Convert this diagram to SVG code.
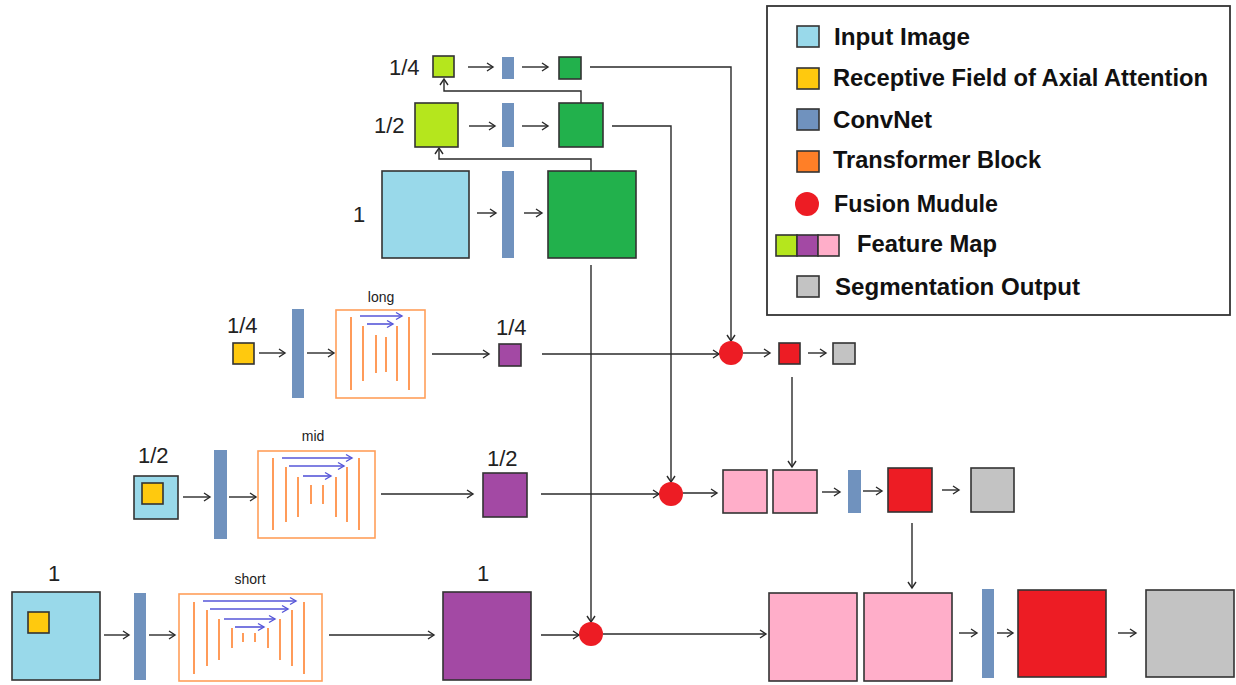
<svg xmlns="http://www.w3.org/2000/svg" width="1236" height="685" viewBox="0 0 1236 685">
<defs>
<style>
.b{stroke:#333;stroke-width:1.6}
.in{fill:#99D9EA}
.yl{fill:#FFC90E}
.cv{fill:#7092BE}
.gr{fill:#22B14C}
.lm{fill:#B5E61D}
.pu{fill:#A349A4}
.pk{fill:#FFAEC9}
.rd{fill:#ED1C24}
.gy{fill:#C3C3C3}
.fu{fill:#ED1C24}
.tb{fill:none;stroke:#FF9F5A;stroke-width:1.6}
.ol{stroke:#FF8A3D;stroke-width:1.7;fill:none}
.ba{stroke:#5656D8;stroke-width:1.6;fill:none;marker-end:url(#bh)}
.c{fill:none;stroke:#2a2a2a;stroke-width:1.4}
.a{marker-end:url(#ah)}
.lbl{font-family:"Liberation Sans",Arial,sans-serif;font-size:22px;fill:#222}
.sm{font-family:"Liberation Sans",Arial,sans-serif;font-size:14px;fill:#222;text-anchor:middle}
.lg{font-family:"Liberation Sans",Arial,sans-serif;font-size:23px;font-weight:bold;fill:#111}
</style>
<marker id="ah" markerUnits="userSpaceOnUse" markerWidth="10" markerHeight="10" refX="8" refY="5" orient="auto">
<path d="M2,1 L8,5 L2,9" fill="none" stroke="#2a2a2a" stroke-width="1.4"/>
</marker>
<marker id="bh" markerUnits="userSpaceOnUse" markerWidth="10" markerHeight="10" refX="8" refY="5" orient="auto">
<path d="M2,1.5 L8,5 L2,8.5" fill="none" stroke="#5656D8" stroke-width="1.4"/>
</marker>
</defs>
<rect width="1236" height="685" fill="#fff"/>

<!-- Legend -->
<g id="legend">
<rect x="767" y="6" width="463" height="309" fill="#fff" stroke="#333" stroke-width="1.8"/>
<rect class="in b" x="797" y="26" width="22" height="21"/>
<text class="lg" x="834" y="45" textLength="136" lengthAdjust="spacingAndGlyphs">Input Image</text>
<rect class="yl b" x="797" y="68" width="22" height="21"/>
<text class="lg" x="833" y="86" textLength="375" lengthAdjust="spacingAndGlyphs">Receptive Field of Axial Attention</text>
<rect class="cv b" x="797" y="109" width="22" height="21"/>
<text class="lg" x="833" y="128" textLength="99" lengthAdjust="spacingAndGlyphs">ConvNet</text>
<rect x="797" y="151" width="22" height="21" fill="#FF7F27" class="b"/>
<text class="lg" x="833" y="168" textLength="208" lengthAdjust="spacingAndGlyphs">Transformer Block</text>
<circle class="fu" cx="807" cy="204" r="12"/>
<text class="lg" x="834" y="212" textLength="164" lengthAdjust="spacingAndGlyphs">Fusion Mudule</text>
<rect class="lm b" x="776" y="235" width="21" height="21"/>
<rect class="pu b" x="797" y="235" width="21" height="21"/>
<rect class="pk b" x="818" y="235" width="21" height="21"/>
<text class="lg" x="857" y="252" textLength="140" lengthAdjust="spacingAndGlyphs">Feature Map</text>
<rect class="gy b" x="797" y="276" width="22" height="21"/>
<text class="lg" x="835" y="295" textLength="245" lengthAdjust="spacingAndGlyphs">Segmentation Output</text>
</g>

<!-- Connectors -->
<g id="connectors">
<line class="c a" x1="468" y1="67" x2="493" y2="67"/>
<line class="c a" x1="522" y1="67" x2="548" y2="67"/>
<line class="c a" x1="469" y1="126" x2="495" y2="126"/>
<line class="c a" x1="522" y1="126" x2="548" y2="126"/>
<line class="c a" x1="477" y1="213" x2="496" y2="213"/>
<line class="c a" x1="524" y1="213" x2="542" y2="213"/>
<polyline class="c a" points="581,103 581,91 444,91 444,79"/>
<polyline class="c a" points="591,171 591,159 439,159 439,148"/>
<polyline class="c a" points="590,67 731,67 731,341"/>
<polyline class="c a" points="612,126 671,126 671,482"/>
<polyline class="c a" points="591,265 591,622"/>
<line class="c a" x1="259" y1="353" x2="285" y2="353"/>
<line class="c a" x1="307" y1="353" x2="334" y2="353"/>
<line class="c a" x1="432" y1="354" x2="489" y2="354"/>
<line class="c a" x1="542" y1="354" x2="719" y2="354"/>
<line class="c a" x1="183" y1="497" x2="210" y2="497"/>
<line class="c a" x1="229" y1="497" x2="256" y2="497"/>
<line class="c a" x1="381" y1="494" x2="473" y2="494"/>
<line class="c a" x1="541" y1="494" x2="659" y2="494"/>
<line class="c a" x1="104" y1="635" x2="129" y2="635"/>
<line class="c a" x1="149" y1="635" x2="175" y2="635"/>
<line class="c a" x1="329" y1="635" x2="434" y2="635"/>
<line class="c a" x1="541" y1="635" x2="579" y2="635"/>
<line class="c a" x1="743" y1="353" x2="770" y2="353"/>
<line class="c a" x1="808" y1="353" x2="826" y2="353"/>
<line class="c a" x1="792" y1="377" x2="792" y2="467"/>
<line class="c a" x1="683" y1="493" x2="717" y2="493"/>
<line class="c a" x1="822" y1="492" x2="840" y2="492"/>
<line class="c a" x1="863" y1="491" x2="882" y2="491"/>
<line class="c a" x1="942" y1="490" x2="959" y2="490"/>
<line class="c a" x1="912" y1="523" x2="912" y2="588"/>
<line class="c a" x1="603" y1="634" x2="766" y2="634"/>
<line class="c a" x1="959" y1="633" x2="977" y2="633"/>
<line class="c a" x1="997" y1="633" x2="1013" y2="633"/>
<line class="c a" x1="1118" y1="633" x2="1136" y2="633"/>
</g>

<!-- Top pyramid (ConvNet branch) -->
<g id="top-quarter">
<text class="lbl" x="389" y="75">1/4</text>
<rect class="lm b" x="433" y="56" width="21" height="21"/>
<rect class="cv" x="502" y="57" width="12" height="22"/>
<rect class="gr b" x="559" y="57" width="22" height="22"/>
</g>
<g id="top-half">
<text class="lbl" x="374" y="133">1/2</text>
<rect class="lm b" x="415" y="103" width="43" height="44"/>
<rect class="cv" x="502" y="103" width="12" height="44"/>
<rect class="gr b" x="559" y="103" width="44" height="44"/>
</g>
<g id="top-full">
<text class="lbl" x="353" y="222">1</text>
<rect class="in b" x="382" y="171" width="87" height="87"/>
<rect class="cv" x="502" y="171" width="12" height="87"/>
<rect class="gr b" x="548" y="171" width="88" height="87"/>
</g>

<!-- long row -->
<g id="long-row">
<text class="lbl" x="227" y="333">1/4</text>
<rect class="yl b" x="233" y="343" width="21" height="21"/>
<rect class="cv" x="292" y="309" width="12" height="89"/>
</g>
<g id="long-transformer">
<text class="sm" x="381" y="302">long</text>
<rect class="tb" x="336" y="310" width="89" height="88"/>
<line class="ol" x1="351" y1="317" x2="351" y2="390"/>
<line class="ol" x1="363" y1="326" x2="363" y2="381"/>
<line class="ol" x1="376" y1="335" x2="376" y2="373"/>
<line class="ol" x1="386" y1="337" x2="386" y2="372"/>
<line class="ol" x1="397" y1="326" x2="397" y2="381"/>
<line class="ol" x1="409" y1="317" x2="409" y2="390"/>
<line class="ba" x1="360" y1="316" x2="402" y2="316"/>
<line class="ba" x1="367" y1="324" x2="393" y2="324"/>
</g>
<g id="long-feature">
<text class="lbl" x="496" y="335">1/4</text>
<rect class="pu b" x="499" y="344" width="22" height="22"/>
</g>

<!-- mid row -->
<g id="mid-row">
<text class="lbl" x="138" y="463">1/2</text>
<rect class="in b" x="134" y="476" width="44" height="43"/>
<rect class="yl b" x="142" y="483" width="21" height="21"/>
<rect class="cv" x="214" y="450" width="13" height="89"/>
</g>
<g id="mid-transformer">
<text class="sm" x="313" y="441">mid</text>
<rect class="tb" x="258" y="451" width="117" height="87"/>
<line class="ol" x1="273" y1="458" x2="273" y2="530"/>
<line class="ol" x1="286" y1="467" x2="286" y2="522"/>
<line class="ol" x1="298" y1="477" x2="298" y2="517"/>
<line class="ol" x1="311" y1="485" x2="311" y2="504"/>
<line class="ol" x1="323" y1="485" x2="323" y2="504"/>
<line class="ol" x1="336" y1="477" x2="336" y2="517"/>
<line class="ol" x1="347" y1="467" x2="347" y2="522"/>
<line class="ol" x1="359" y1="458" x2="359" y2="530"/>
<line class="ba" x1="282" y1="458" x2="352" y2="458"/>
<line class="ba" x1="289" y1="466" x2="344" y2="466"/>
<line class="ba" x1="303" y1="476" x2="331" y2="476"/>
</g>
<g id="mid-feature">
<text class="lbl" x="487" y="466">1/2</text>
<rect class="pu b" x="483" y="473" width="44" height="44"/>
</g>

<!-- short row -->
<g id="short-row">
<text class="lbl" x="48" y="581">1</text>
<rect class="in b" x="12" y="592" width="88" height="88"/>
<rect class="yl b" x="28" y="612" width="21" height="21"/>
<rect class="cv" x="134" y="593" width="12" height="87"/>
</g>
<g id="short-transformer">
<text class="sm" x="250" y="584">short</text>
<rect class="tb" x="179" y="594" width="143" height="87"/>
<line class="ol" x1="194" y1="602" x2="194" y2="674"/>
<line class="ol" x1="207" y1="610" x2="207" y2="666"/>
<line class="ol" x1="219" y1="619" x2="219" y2="660"/>
<line class="ol" x1="232" y1="628" x2="232" y2="648"/>
<line class="ol" x1="243" y1="633" x2="243" y2="642"/>
<line class="ol" x1="255" y1="633" x2="255" y2="642"/>
<line class="ol" x1="268" y1="628" x2="268" y2="648"/>
<line class="ol" x1="280" y1="619" x2="280" y2="660"/>
<line class="ol" x1="292" y1="610" x2="292" y2="666"/>
<line class="ol" x1="304" y1="602" x2="304" y2="674"/>
<line class="ba" x1="203" y1="601" x2="296" y2="601"/>
<line class="ba" x1="210" y1="609" x2="288" y2="609"/>
<line class="ba" x1="224" y1="619" x2="275" y2="619"/>
<line class="ba" x1="235" y1="627" x2="264" y2="627"/>
</g>
<g id="short-feature">
<text class="lbl" x="477" y="581">1</text>
<rect class="pu b" x="443" y="592" width="88" height="88"/>
</g>

<!-- Fusion modules -->
<g id="fusion-quarter"><circle class="fu" cx="731" cy="353" r="12"/></g>
<g id="fusion-half"><circle class="fu" cx="671" cy="494" r="12"/></g>
<g id="fusion-full"><circle class="fu" cx="591" cy="634" r="12"/></g>

<!-- Output side -->
<g id="out-quarter">
<rect class="rd b" x="779" y="343" width="21" height="21"/>
<rect class="gy b" x="833" y="343" width="22" height="21"/>
</g>
<g id="out-half">
<rect class="pk b" x="723" y="470" width="44" height="43"/>
<rect class="pk b" x="773" y="470" width="44" height="43"/>
<rect class="cv" x="848" y="470" width="13" height="43"/>
<rect class="rd b" x="888" y="468" width="44" height="44"/>
<rect class="gy b" x="971" y="468" width="43" height="44"/>
</g>
<g id="out-full">
<rect class="pk b" x="769" y="593" width="88" height="88"/>
<rect class="pk b" x="864" y="593" width="88" height="88"/>
<rect class="cv" x="982" y="589" width="12" height="89"/>
<rect class="rd b" x="1018" y="590" width="88" height="87"/>
<rect class="gy b" x="1146" y="590" width="88" height="87"/>
</g>
</svg>
